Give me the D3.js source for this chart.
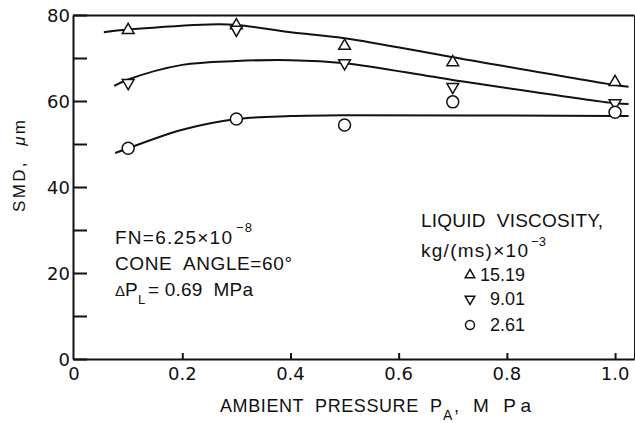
<!DOCTYPE html>
<html>
<head>
<meta charset="utf-8">
<script src="https://cdn.jsdelivr.net/npm/d3@7"></script>
<style>
    body { margin: 0; background: #fff; }
    svg { display: block; }
    text { font-family: "Liberation Sans", Arial, sans-serif; fill: #111; white-space: pre; }
    .tick-label { font-family: "DejaVu Sans", sans-serif; font-size: 18px; }
    .axis path, .axis line { stroke: #111; stroke-width: 2; }
    .fit { fill: none; stroke: #111; stroke-width: 2; }
    .mark { fill: #fff; stroke: #111; stroke-width: 1.5; }
</style>
</head>
<body>
<svg id="chart" width="635" height="423"></svg>
<script>
// measured points, SMD (um) vs ambient pressure (MPa)
const pressure = [0.1, 0.3, 0.5, 0.7, 1.0];
const smd1519 = [76.5, 77.6, 72.8, 69.0, 64.4];
const smd901 = [64.2, 76.6, 68.8, 63.3, 59.5];
const smd261 = [49.0, 55.8, 54.4, 59.8, 57.4];

// hand drawn fitted curves
const fit1519 = [[0.055, 76.0], [0.1, 76.6], [0.25, 77.8], [0.3, 77.7], [0.4, 76.0], [0.5, 74.6], [0.7, 70.2], [1.0, 63.7], [1.025, 63.3]];
const fit901 = [[0.074, 63.5], [0.1, 65.0], [0.2, 68.4], [0.3, 69.3], [0.4, 69.5], [0.5, 68.8], [0.7, 64.9], [1.0, 59.5], [1.025, 59.3]];
const fit261 = [[0.076, 47.9], [0.1, 49.0], [0.2, 53.3], [0.3, 55.8], [0.4, 56.5], [0.5, 56.7], [1.0, 56.5], [1.025, 56.5]];

const xTicks = [0, 0.2, 0.4, 0.6, 0.8, 1.0];
const xTickLabels = ['0', '0.2', '0.4', '0.6', '0.8', '1.0'];
const yTicks = [0, 20, 40, 60, 80];
const yMinor = [10, 30, 50, 70];
const legLabels = ['15.19', '9.01', '2.61'];

const svg = d3.select('#chart');
const margin = {top: 15, left: 73, right: 0, bottom: 64};
const width = 635 - margin.left - margin.right;
const height = 423 - margin.top - margin.bottom;

const g = svg.append('g')
    .attr('transform', 'translate(' + margin.left + ',' + margin.top + ')');

const x = d3.scaleLinear().domain([-0.002, 1.035]).range([0, width - 1]);
const y = d3.scaleLinear().domain([0, 80]).range([height, 0]);

// helper: a piece of text spread to a measured width
function label(parent, str, px, py, len, size) {
    const t = parent.append('text')
        .attr('x', px).attr('y', py)
        .attr('font-size', size || 19)
        .text(str);
    if (len) t.attr('textLength', len).attr('lengthAdjust', 'spacing');
    return t;
}

// left axis, ticks point inward
const yAxis = d3.axisRight(y).tickValues(yTicks.concat(yMinor)).tickSize(14).tickFormat('').tickSizeOuter(0);
g.append('g').attr('class', 'axis').call(yAxis);
g.selectAll('.ylab').data(yTicks).enter().append('text')
    .attr('class', 'tick-label')
    .attr('x', -3).attr('y', d => y(d) + 7)
    .attr('text-anchor', 'end')
    .text(d => d);

// bottom axis
const xAxis = d3.axisTop(x).tickValues(xTicks.slice(1)).tickSize(6).tickFormat('').tickSizeOuter(0);
g.append('g').attr('class', 'axis').attr('transform', 'translate(0,' + height + ')').call(xAxis);
g.selectAll('.xlab').data(xTicks).enter().append('text')
    .attr('class', 'tick-label')
    .attr('x', d => x(d)).attr('y', height + 21)
    .attr('text-anchor', 'middle')
    .text((d, i) => xTickLabels[i]);

// top and right frame
g.append('g').attr('class', 'axis').call(d3.axisBottom(x).tickValues([]).tickSizeOuter(0));
g.append('g').attr('class', 'axis').attr('transform', 'translate(' + (width - 0.5) + ',0)')
    .call(d3.axisLeft(y).tickValues([]).tickSizeOuter(0));

// fitted curves
const line = d3.line().x(d => x(d[0])).y(d => y(d[1])).curve(d3.curveCatmullRom);
[fit1519, fit901, fit261].forEach(f => {
    g.append('path').attr('class', 'fit').attr('d', line(f));
});

// markers
const triUp = d3.symbol().type(d3.symbolTriangle).size(60);
g.selectAll('.up').data(pressure).enter().append('path')
    .attr('class', 'mark')
    .attr('transform', (d, i) => 'translate(' + x(d) + ',' + y(smd1519[i]) + ')')
    .attr('d', triUp);
g.selectAll('.down').data(pressure).enter().append('path')
    .attr('class', 'mark')
    .attr('transform', (d, i) => 'translate(' + x(d) + ',' + y(smd901[i]) + ') rotate(180)')
    .attr('d', triUp);
g.selectAll('.circ').data(pressure).enter().append('circle')
    .attr('class', 'mark')
    .attr('cx', d => x(d)).attr('cy', (d, i) => y(smd261[i]))
    .attr('r', 6);

// axis titles
svg.append('text')
    .attr('transform', 'translate(25,166) rotate(-90)')
    .attr('text-anchor', 'middle').attr('font-size', 17)
    .attr('textLength', 92).attr('lengthAdjust', 'spacing')
    .html('SMD,  <tspan font-style="italic">μ</tspan>m');

label(svg, 'AMBIENT  PRESSURE  P', 220, 412, 222, 18);
label(svg, 'A', 443, 420, null, 14);
label(svg, ',', 454, 412, null, 18);
label(svg, 'M Pa', 473, 412, 58, 19);

// conditions
label(svg, 'FN=6.25×10', 115, 244, 117);
label(svg, '−8', 236, 232, 16, 13);
label(svg, 'CONE  ANGLE=60°', 115, 270, 177);
label(svg, 'Δ', 115, 296, null, 15);
label(svg, 'P', 125, 296, null, 19);
label(svg, 'L', 138, 304, null, 13);
label(svg, '= 0.69  MPa', 148, 296, 105);

// legend
label(svg, 'LIQUID  VISCOSITY,', 421, 227, 182);
label(svg, 'kg/(ms)×10', 421, 257, 107);
label(svg, '−3', 531, 246, 15, 13);
const legY = [281, 305, 331];
const small = d3.symbol().type(d3.symbolTriangle).size(40);
svg.append('path').attr('class', 'mark').attr('transform', 'translate(470,' + (legY[0] - 6) + ')').attr('d', small);
svg.append('path').attr('class', 'mark').attr('transform', 'translate(470,' + (legY[1] - 6) + ') rotate(180)').attr('d', small);
svg.append('circle').attr('class', 'mark').attr('cx', 470).attr('cy', legY[2] - 6).attr('r', 4.5);
svg.selectAll('.lv').data(legLabels).enter().append('text')
    .attr('x', 525).attr('y', (d, i) => legY[i])
    .attr('text-anchor', 'end').attr('font-size', 18)
    .text(d => d);
</script>
</body>
</html>
